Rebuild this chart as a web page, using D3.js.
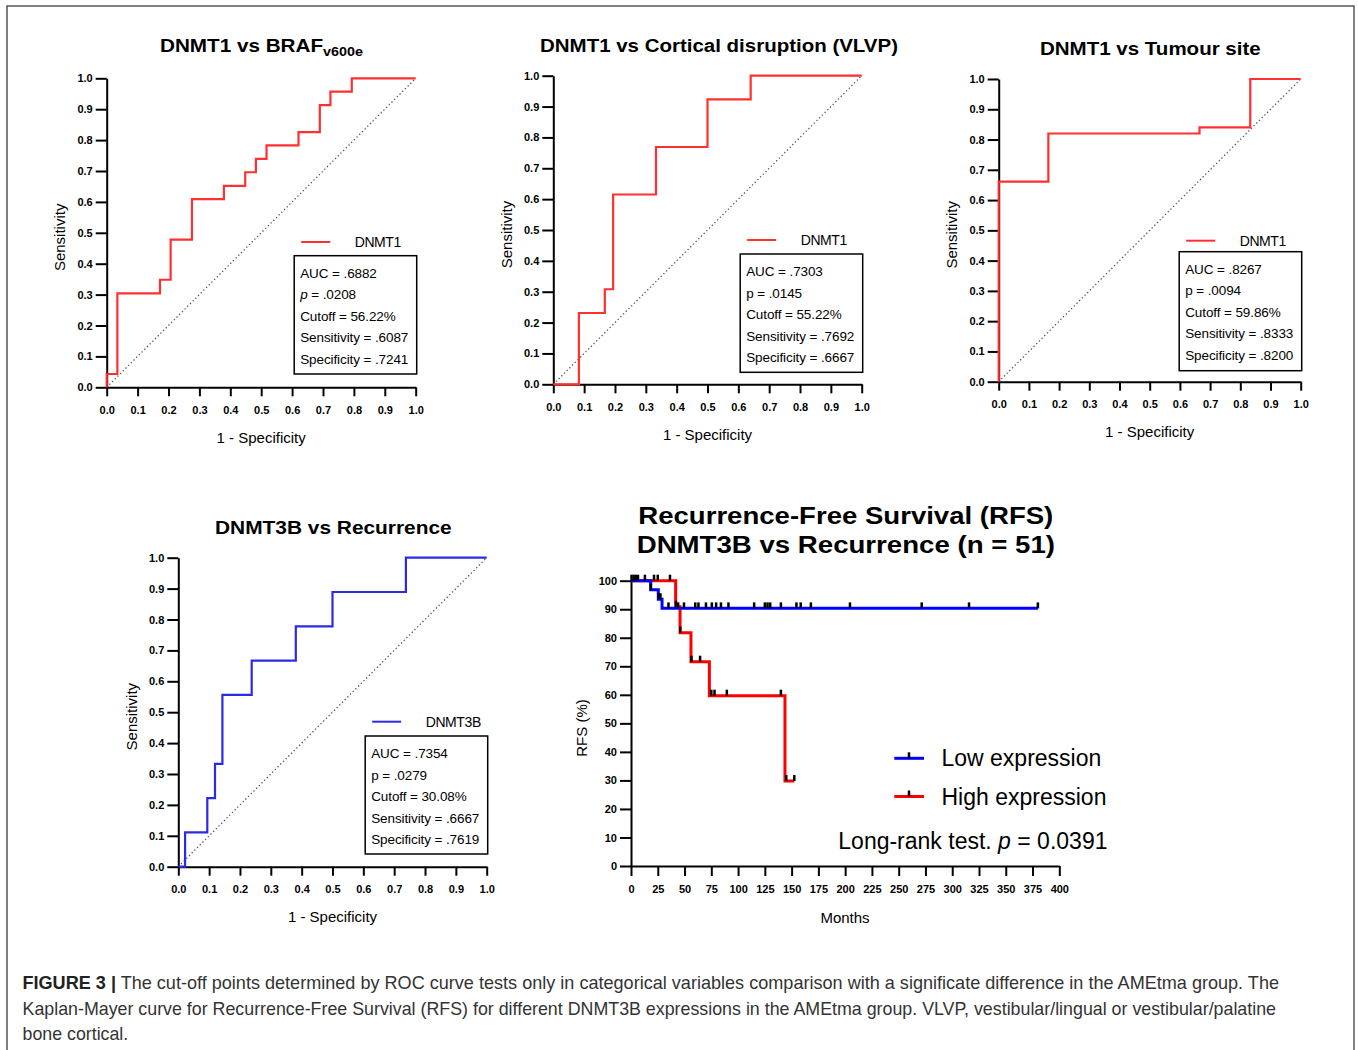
<!DOCTYPE html>
<html><head><meta charset="utf-8">
<script src="https://cdn.jsdelivr.net/npm/d3@7"></script>
<style>
body{margin:0;background:#fff}
svg{display:block}
text{font-family:"Liberation Sans",Arial,Helvetica,sans-serif}
</style>
</head><body>
<svg id="c" width="1358" height="1050"></svg>
<script>
// ---------- DATA ----------
const rocTicks = [0,0.1,0.2,0.3,0.4,0.5,0.6,0.7,0.8,0.9,1.0];

const brafFPR = [0,0,0.0345,0.1724,0.2069,0.2759,0.3793,0.4483,0.4828,0.5172,0.6207,0.6897,0.7241,0.7931,1];
const brafTPR = [0,0.043,0.304,0.348,0.478,0.609,0.652,0.696,0.739,0.783,0.826,0.913,0.957,1,1];
const brafStats = ["AUC = .6882","p = .0208","Cutoff = 56.22%","Sensitivity = .6087","Specificity = .7241"];

const vlvpFPR = [0,0.083,0.167,0.194,0.333,0.5,0.64,1];
const vlvpTPR = [0,0.231,0.308,0.615,0.769,0.923,1,1];
const vlvpStats = ["AUC = .7303","p = .0145","Cutoff = 55.22%","Sensitivity = .7692","Specificity = .6667"];

const siteFPR = [0,0,0.1645,0.665,0.833,1];
const siteTPR = [0,0.661,0.82,0.84,1,1];
const siteStats = ["AUC = .8267","p = .0094","Cutoff = 59.86%","Sensitivity = .8333","Specificity = .8200"];

const recFPR = [0,0.022,0.094,0.119,0.143,0.238,0.381,0.5,0.738,1];
const recTPR = [0,0.111,0.222,0.333,0.556,0.667,0.778,0.889,1,1];
const recStats = ["AUC = .7354","p = .0279","Cutoff = 30.08%","Sensitivity = .6667","Specificity = .7619"];

const kmTicksX = [0,25,50,75,100,125,150,175,200,225,250,275,300,325,350,375,400];
const kmTicksY = [0,10,20,30,40,50,60,70,80,90,100];
const lowTime = [0,18.4,25.5,29,380];
const lowRFS  = [100,96.8,93.5,90.3,90.3];
const highTime = [0,41.7,45.8,56,73.2,143.8,152.5];
const highRFS  = [100,90.9,81.8,71.6,59.7,29.8,29.8];
const lowCensor = [0.5,2.5,4.5,6.5,13,18.5,26,27.5,35,44,49.5,60,63,70,75.5,79.5,84,91,115,125,127.5,130,140,154.5,158.5,168,204.5,271.5,315.7,380];
const highCensor = [21.5,25,36.4,42,46,56.5,64.5,75,78,89.5,140,145,152.5];
const kmLegend = ["Low expression","High expression"];

// ---------- DRAW ----------
const svg = d3.select("#c");
const RED = "#ff3030", BLUE = "#2b2be6";

// frame
svg.append("path").attr("d","M7,1060V6H1354V1060").attr("fill","none").attr("stroke","#555").attr("stroke-width",1.5);

function styleAxis(g){
  g.select(".domain").attr("stroke","#000").attr("stroke-width",2);
  g.selectAll(".tick line").attr("stroke","#000").attr("stroke-width",2);
  g.selectAll(".tick text").attr("fill","#000").style("font-size","11px").style("font-weight","bold")
   .style("font-family",'"Liberation Sans",Arial,sans-serif');
}

function roc(p){
  const x = d3.scaleLinear([0,1],[p.x0,p.x1]);
  const y = d3.scaleLinear([0,1],[p.yB,p.yT]);
  const g = svg.append("g");
  g.append("line").attr("x1",x(0)).attr("y1",y(0)).attr("x2",x(1)).attr("y2",y(1))
   .attr("stroke","#555").attr("stroke-width",1.3).attr("stroke-dasharray","1.3,2.5");
  const gx = g.append("g").attr("transform",`translate(0,${p.yB})`)
   .call(d3.axisBottom(x).tickValues(rocTicks).tickFormat(d3.format(".1f")).tickSize(9).tickSizeOuter(0).tickPadding(9.5));
  styleAxis(gx);
  const gy = g.append("g").attr("transform",`translate(${p.x0},0)`)
   .call(d3.axisLeft(y).tickValues(rocTicks).tickFormat(d3.format(".1f")).tickSize(11).tickSizeOuter(0).tickPadding(3));
  styleAxis(gy);
  g.append("path").datum(d3.zip(p.fpr,p.tpr))
   .attr("d",d3.line().x(d=>x(d[0])).y(d=>y(d[1])).curve(d3.curveStepAfter))
   .attr("fill","none").attr("stroke",p.color).attr("stroke-width",2.2);
  // title
  const t = g.append("text").attr("x",p.tx).attr("y",p.ty).attr("textLength",p.tl).attr("lengthAdjust","spacingAndGlyphs")
   .style("font-size","18px").style("font-weight","bold").attr("fill","#000");
  t.append("tspan").text(p.title);
  if(p.sub) t.append("tspan").attr("dy",4).style("font-size","12.5px").text(p.sub);
  // axis labels
  g.append("text").attr("x",(p.x0+p.x1)/2).attr("y",p.yB+55.5).attr("text-anchor","middle")
   .style("font-size","15px").attr("fill","#000").text("1 - Specificity");
  g.append("text").attr("transform",`translate(${p.x0-41.5},${(p.yT+p.yB)/2+4.5}) rotate(-90)`).attr("text-anchor","middle")
   .style("font-size","15px").attr("fill","#000").text("Sensitivity");
  // legend
  const ly = p.yB - p.lg;
  g.append("line").attr("x1",p.x1-114.5).attr("x2",p.x1-85.5).attr("y1",ly).attr("y2",ly).attr("stroke",p.color).attr("stroke-width",2);
  g.append("text").attr("x",p.x1-61).attr("y",ly).attr("dy","0.35em").style("font-size","14px").style("letter-spacing","-0.4px")
   .attr("fill","#000").text(p.name);
  const bl = p.x1-121.5, bt = p.yB-p.bt, bb = p.yB-p.bb;
  g.append("rect").attr("x",bl).attr("y",bt).attr("width",p.x1+1-bl).attr("height",bb-bt)
   .attr("fill","none").attr("stroke","#000").attr("stroke-width",1.5);
  p.stats.forEach((s,i)=>{
    const tt = g.append("text").attr("x",bl+6).attr("y",bt+17.6+i*21.4).attr("dy","0.35em")
      .style("font-size","13.5px").style("letter-spacing","-0.1px").attr("fill","#000");
    if(p.italicP && s.startsWith("p ")){
      tt.append("tspan").style("font-style","italic").text("p");
      tt.append("tspan").text(s.slice(1));
    } else tt.text(s);
  });
}

roc({x0:106.7,x1:415.7,yT:78.3,yB:387.3,fpr:brafFPR,tpr:brafTPR,color:RED,
  title:"DNMT1 vs BRAF",sub:"v600e",tx:160,ty:51.7,tl:203,name:"DNMT1",stats:brafStats,italicP:true,lg:145.3,bt:131.6,bb:13.3});
roc({x0:553.3,x1:861.7,yT:75.7,yB:384.3,fpr:vlvpFPR,tpr:vlvpTPR,color:RED,
  title:"DNMT1 vs Cortical disruption (VLVP)",tx:540,ty:52,tl:358,name:"DNMT1",stats:vlvpStats,italicP:false,lg:144.3,bt:130.3,bb:12});
roc({x0:998.7,x1:1300.7,yT:79,yB:381.7,fpr:siteFPR,tpr:siteTPR,color:RED,
  title:"DNMT1 vs Tumour site",tx:1040,ty:55.3,tl:220.7,name:"DNMT1",stats:siteStats,italicP:false,lg:141,bt:130,bb:11});
roc({x0:178.3,x1:486.7,yT:557.7,yB:866.7,fpr:recFPR,tpr:recTPR,color:BLUE,
  title:"DNMT3B vs Recurrence",tx:215,ty:534,tl:236.7,name:"DNMT3B",stats:recStats,italicP:false,lg:145,bt:130.7,bb:12.7});

// ---------- Kaplan-Meier ----------
(function(){
  const x = d3.scaleLinear([0,400],[631,1059.3]);
  const y = d3.scaleLinear([0,100],[866,580.7]);
  const g = svg.append("g");
  const gx = g.append("g").attr("transform","translate(0,866)")
    .call(d3.axisBottom(x).tickValues(kmTicksX).tickFormat(d3.format("d")).tickSize(10).tickSizeOuter(0).tickPadding(9.5));
  styleAxis(gx);
  const gy = g.append("g").attr("transform","translate(631,0)")
    .call(d3.axisLeft(y).tickValues(kmTicksY).tickFormat(d3.format("d")).tickSize(11).tickSizeOuter(0).tickPadding(3));
  styleAxis(gy);
  const line = d3.line().x(d=>x(d[0])).y(d=>y(d[1])).curve(d3.curveStepAfter);
  g.append("path").datum(d3.zip(highTime,highRFS)).attr("d",line).attr("fill","none").attr("stroke","#ff0000").attr("stroke-width",3);
  g.append("path").datum(d3.zip(lowTime,lowRFS)).attr("d",line).attr("fill","none").attr("stroke","#0000ff").attr("stroke-width",3);
  function valAt(ts,vs,t){ let v=vs[0]; for(let i=0;i<ts.length;i++){ if(ts[i]<=t) v=vs[i]; } return v; }
  const cens = lowCensor.map(t=>[t,valAt(lowTime,lowRFS,t)]).concat(highCensor.map(t=>[t,valAt(highTime,highRFS,t)]));
  g.selectAll(".cen").data(cens).join("line").attr("class","cen")
    .attr("x1",d=>x(d[0])).attr("x2",d=>x(d[0])).attr("y1",d=>y(d[1])-6).attr("y2",d=>y(d[1]))
    .attr("stroke","#000").attr("stroke-width",2.5);
  // titles
  g.append("text").attr("x",638.3).attr("y",524).attr("textLength",415).attr("lengthAdjust","spacingAndGlyphs")
    .style("font-size","23px").style("font-weight","bold").attr("fill","#000").text("Recurrence-Free Survival (RFS)");
  g.append("text").attr("x",636.7).attr("y",553.3).attr("textLength",418.3).attr("lengthAdjust","spacingAndGlyphs")
    .style("font-size","23px").style("font-weight","bold").attr("fill","#000").text("DNMT3B vs Recurrence (n = 51)");
  // axis labels
  g.append("text").attr("x",845).attr("y",923).attr("text-anchor","middle").style("font-size","15px").attr("fill","#000").text("Months");
  g.append("text").attr("transform","translate(587.4,728) rotate(-90)").attr("text-anchor","middle").style("font-size","15px").attr("fill","#000").text("RFS (%)");
  // legend
  const cols = ["#0000ff","#ff0000"], lys = [758.3,796.5];
  kmLegend.forEach((name,i)=>{
    g.append("line").attr("x1",894.3).attr("x2",924).attr("y1",lys[i]).attr("y2",lys[i]).attr("stroke",cols[i]).attr("stroke-width",3);
    g.append("line").attr("x1",909).attr("x2",909).attr("y1",lys[i]-6).attr("y2",lys[i]).attr("stroke","#000").attr("stroke-width",2.5);
    g.append("text").attr("x",941.5).attr("y",lys[i]).attr("dy","0.35em").style("font-size","23px").attr("fill","#000").text(name);
  });
  const lr = g.append("text").attr("x",838.3).attr("y",840.7).attr("dy","0.35em").style("font-size","23px").attr("fill","#000");
  lr.append("tspan").text("Long-rank test. ");
  lr.append("tspan").style("font-style","italic").text("p");
  lr.append("tspan").text(" = 0.0391");
})();

// ---------- caption ----------
const capLines = [
  ["FIGURE 3 |"," The cut-off points determined by ROC curve tests only in categorical variables comparison with a significate difference in the AMEtma group. The"],
  ["","Kaplan-Mayer curve for Recurrence-Free Survival (RFS) for different DNMT3B expressions in the AMEtma group. VLVP, vestibular/lingual or vestibular/palatine"],
  ["","bone cortical."]
];
const capLens = [1256.5, 1253.5, null];
capLines.forEach((l,i)=>{
  const t = svg.append("text").attr("x",22.5).attr("y",989+i*25.5).style("font-size","17.8px").attr("fill","#333");
  if(capLens[i]) t.attr("textLength",capLens[i]).attr("lengthAdjust","spacingAndGlyphs");
  if(l[0]) t.append("tspan").style("font-weight","bold").attr("fill","#222").text(l[0]);
  t.append("tspan").text(l[1]);
});
</script>
</body></html>
